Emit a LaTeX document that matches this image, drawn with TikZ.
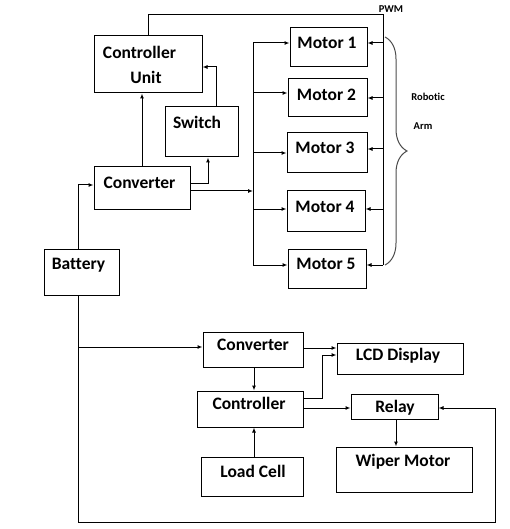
\documentclass[tikz,border=0pt]{standalone}
\usepackage{fontspec}
\setmainfont[Ligatures=NoCommon]{Carlito}
\usetikzlibrary{arrows.meta,decorations.pathreplacing}
\begin{document}
\begin{tikzpicture}[x=1pt,y=-1pt,
  box/.style={draw,line width=1pt,inner sep=0pt},
  lbl/.style={inner sep=0pt,font=\fontsize{17.5}{20}\selectfont\bfseries},
  small/.style={inner sep=0pt,font=\fontsize{10.5}{12}\selectfont\bfseries},
  arr/.style={-{Latex[length=5pt,width=4pt]},line width=1pt},
  ln/.style={line width=1pt},
  bracestyle/.style={decorate,decoration={brace,amplitude=22pt},line width=1pt,draw=black!70}]
\useasboundingbox (0,0) rectangle (510,529);
% boxes
\node[box,minimum width=108pt,minimum height=57pt] (cu) at (148,64.5) {};
\node[box,minimum width=73pt,minimum height=50pt] (sw) at (201.5,132) {};
\node[box,minimum width=96pt,minimum height=42pt] (cv1) at (142,188) {};
\node[box,minimum width=77pt,minimum height=39pt] (m1) at (328.5,47.5) {};
\node[box,minimum width=79pt,minimum height=38pt] (m2) at (327.5,98) {};
\node[box,minimum width=80pt,minimum height=40pt] (m3) at (327,153) {};
\node[box,minimum width=78pt,minimum height=40pt] (m4) at (326,211) {};
\node[box,minimum width=78pt,minimum height=39pt] (m5) at (327,268.5) {};
\node[box,minimum width=75pt,minimum height=46pt] (bat) at (81.5,272) {};
\node[box,minimum width=100pt,minimum height=35pt] (cv2) at (253,349.5) {};
\node[box,minimum width=126pt,minimum height=31pt] (lcd) at (400,358.5) {};
\node[box,minimum width=106pt,minimum height=36pt] (ctl) at (250,409) {};
\node[box,minimum width=87pt,minimum height=25pt] (rel) at (394.5,406.5) {};
\node[box,minimum width=136pt,minimum height=45pt] (wip) at (404,469.5) {};
\node[box,minimum width=102pt,minimum height=39pt] (lc) at (252,476.5) {};
% texts
\node[lbl] (tcu1) at (139.5,52) {Controller};
\node[lbl] (tcu2) at (146,77) {Unit};
\node[lbl] (tsw) at (197,122) {Switch};
\node[lbl] (tcv1) at (139.5,183) {Converter};
\node[lbl] (tm1) at (327,43) {Motor 1};
\node[lbl] (tm2) at (326.5,95) {Motor 2};
\node[lbl] (tm3) at (325,148) {Motor 3};
\node[lbl] (tm4) at (325,207) {Motor 4};
\node[lbl] (tm5) at (326,264) {Motor 5};
\node[lbl] (tbat) at (78.5,265) {Battery};
\node[lbl] (tcv2) at (253,345) {Converter};
\node[lbl] (tlcd) at (398,356) {LCD Display};
\node[lbl] (tctl) at (249,403) {Controller};
\node[lbl] (trel) at (395,408) {Relay};
\node[lbl] (twip) at (403,462) {Wiper Motor};
\node[lbl] (tlc) at (253,471) {Load Cell};
\node[small] (tpwm) at (391,9) {PWM};
\node[small] (trob) at (428,97) {Robotic};
\node[small] (tarm) at (423,126) {Arm};
% top part connectors
\coordinate (c1) at (208,184);
\draw[arr] (cv1.east |- c1) -- (c1) -- (sw.south -| c1);
\coordinate (c2) at (216,67);
\draw[arr] (sw.north -| c2) -- (c2) -- (cu.east |- c2);
\draw[arr] (cv1.north) -- (cv1.north |- cu.south);
% bus
\coordinate (b1) at (253,43);
\coordinate (b2) at (253,93);
\coordinate (b3) at (253,153);
\coordinate (bm) at (253,191);
\coordinate (b4) at (253,209);
\coordinate (b5) at (253,265);
\draw[ln] (b1) -- (b5);
\draw[arr] (cv1.east |- bm) -- (bm);
\draw[arr] (b1) -- (m1.west |- b1);
\draw[arr] (b2) -- (m2.west |- b2);
\draw[arr] (b3) -- (m3.west |- b3);
\draw[arr] (b4) -- (m4.west |- b4);
\draw[arr] (b5) -- (m5.west |- b5);
% PWM rail
\coordinate (pt) at (148,15);
\coordinate (rt) at (383,15);
\coordinate (r1) at (383,43);
\coordinate (r2) at (383,98);
\coordinate (r3) at (383,149);
\coordinate (r4) at (383,209);
\coordinate (r5) at (383,265);
\draw[ln] (cu.north -| pt) -- (pt) -- (rt) -- (r5);
\draw[arr] (r1) -- (m1.east |- r1);
\draw[arr] (r2) -- (m2.east |- r2);
\draw[arr] (r3) -- (m3.east |- r3);
\draw[arr] (r4) -- (m4.east |- r4);
\draw[arr] (r5) -- (m5.east |- r5);
\coordinate (bra) at (385,37);
\coordinate (brb) at (385,265);
\draw[bracestyle] (bra) -- (brb);
% battery
\coordinate (bu) at (78,185);
\draw[arr] (bat.north -| bu) -- (bu) -- (cv1.west |- bu);
\coordinate (bl) at (78,522);
\coordinate (br) at (495,522);
\coordinate (bru) at (495,408);
\draw[arr] (bat.south -| bl) -- (bl) -- (br) -- (bru) -- (rel.east |- bru);
\coordinate (bj) at (78,347);
\draw[arr] (bj) -- (cv2.west |- bj);
% bottom part
\coordinate (l1) at (303,348);
\draw[arr] (l1) -- (lcd.west |- l1);
\coordinate (v1) at (254,367);
\draw[arr] (v1) -- (ctl.north -| v1);
\coordinate (k1) at (322,398);
\coordinate (k2) at (322,355);
\draw[arr] (ctl.east |- k1) -- (k1) -- (k2) -- (lcd.west |- k2);
\coordinate (r0) at (303,408);
\draw[arr] (ctl.east |- r0) -- (rel.west |- r0);
\coordinate (w0) at (396,419);
\draw[arr] (w0) -- (wip.north -| w0);
\coordinate (lcx) at (254,457);
\draw[arr] (lcx) -- (ctl.south -| lcx);
\end{tikzpicture}
\end{document}
